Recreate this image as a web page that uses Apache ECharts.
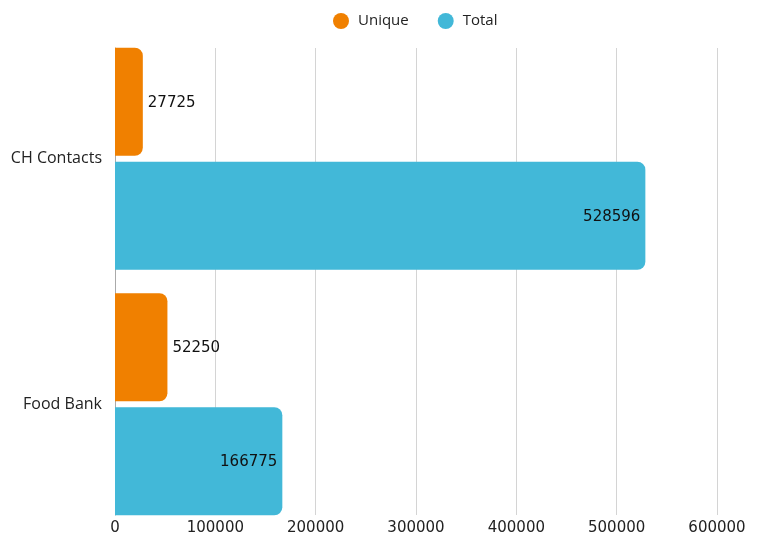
<!DOCTYPE html>
<html>
<head>
<meta charset="utf-8">
<script src="https://cdn.jsdelivr.net/npm/echarts@6/dist/echarts.min.js"></script>
<style>html,body{margin:0;padding:0;background:#fff;}#c{width:760px;height:537px;}</style>
</head>
<body>
<div id="c"></div>
<script>
var categories = ['CH Contacts', 'Food Bank'];
var uniqueValues = [27725, 52250];
var totalValues = [528596, 166775];
var seriesNames = ['Unique', 'Total'];
var xMax = 600000;
var xInterval = 100000;

var chart = echarts.init(document.getElementById('c'), null, {renderer: 'canvas'});
var textFont = '"Open Sans", sans-serif';
var dataFont = '"DejaVu Sans", sans-serif';
chart.setOption({
  animation: false,
  backgroundColor: '#ffffff',
  legend: {
    top: 8,
    left: 328,
    icon: 'circle',
    itemWidth: 16,
    itemHeight: 16,
    itemGap: 29,
    textStyle: {fontFamily: textFont, fontSize: 15, color: '#222', padding: [0, 0, 0, 4]},
    data: seriesNames
  },
  grid: [
    {left: 115, right: 43, top: 48, bottom: 22},
    {left: 115, right: 43, top: 36, bottom: 10}
  ],
  xAxis: [
    {
      gridIndex: 0, type: 'value', min: 0, max: xMax, interval: xInterval,
      axisLine: {show: false}, axisTick: {show: false},
      splitLine: {show: true, lineStyle: {color: '#d4d4d4', width: 1}},
      axisLabel: {margin: 6, fontFamily: dataFont, fontSize: 15, color: '#222',
        formatter: function (v) { return String(v); }}
    },
    {
      gridIndex: 1, type: 'value', min: 0, max: xMax, interval: xInterval,
      show: false, splitLine: {show: false}
    }
  ],
  yAxis: [
    {
      gridIndex: 0, type: 'category', data: categories, inverse: true,
      axisLine: {show: true, lineStyle: {color: '#aaaaaa'}},
      axisTick: {show: false}, axisLabel: {show: false}, splitLine: {show: false}
    },
    {
      gridIndex: 1, type: 'category', data: categories, inverse: true,
      axisLine: {show: false}, axisTick: {show: false}, splitLine: {show: false},
      axisLabel: {margin: 13, fontFamily: textFont, fontSize: 16, color: '#222'}
    }
  ],
  series: [
    {
      name: seriesNames[0], type: 'bar', xAxisIndex: 1, yAxisIndex: 1,
      data: uniqueValues, barWidth: 108, barGap: '5.6%',
      itemStyle: {color: '#F08000', borderRadius: [0, 8, 8, 0]},
      label: {show: true, position: 'right', distance: 5, offset: [0, 1], fontFamily: dataFont, fontSize: 15, color: '#111'}
    },
    {
      name: seriesNames[1], type: 'bar', xAxisIndex: 1, yAxisIndex: 1,
      data: totalValues, barWidth: 108, barGap: '5.6%',
      itemStyle: {color: '#42B8D8', borderRadius: [0, 8, 8, 0]},
      label: {show: true, position: 'insideRight', distance: 5, offset: [0, 1], fontFamily: dataFont, fontSize: 15, color: '#111'}
    }
  ]
});
</script>
</body>
</html>
